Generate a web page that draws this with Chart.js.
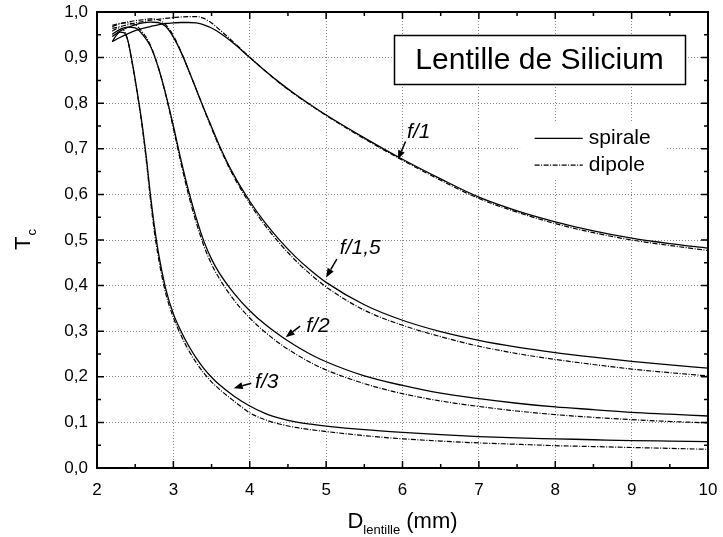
<!DOCTYPE html>
<html>
<head>
<meta charset="utf-8">
<script src="https://cdn.jsdelivr.net/npm/chart.js@4/dist/chart.umd.min.js"></script>
<style>
html,body{margin:0;padding:0;background:#fff;overflow:hidden;}
canvas{display:block;}
</style>
</head>
<body>
<canvas id="c" width="723" height="537"></canvas>
<script>
// ---------- data ----------
const X = [2.2,2.3,2.4,2.5,2.6,2.7,2.8,2.9,3.0,3.1,3.2,3.3,3.4,3.5,3.6,3.8,4.0,4.2,4.4,4.6,4.8,5.0,5.5,6.0,6.5,7.0,7.5,8.0,8.5,9.0,9.5,10];
const X3 = [2.2,2.25,2.3,2.35,2.4,2.45,2.5,2.55,2.6,2.65,2.7,2.75,2.8,2.9,3.0,3.1,3.2,3.3,3.4,3.5,3.6,3.8,4.0,4.2,4.4,4.6,4.8,5.0,5.5,6.0,6.5,7.0,7.5,8.0,8.5,9.0,9.5,10];

const f1Spirale  = [.935,.944,.952,.959,.964,.968,.972,.975,.976,.977,.977,.976,.972,.965,.955,.930,.900,.871,.844,.819,.796,.774,.724,.677,.634,.594,.564,.540,.520,.504,.492,.482];
const f1Dipole   = [.964,.968,.972,.976,.979,.982,.984,.986,.988,.989,.990,.990,.986,.976,.962,.932,.901,.871,.843,.818,.795,.773,.722,.675,.631,.591,.561,.536,.516,.500,.488,.477];
const f15Spirale = [.946,.958,.966,.972,.976,.978,.977,.968,.945,.912,.872,.830,.788,.748,.708,.640,.585,.538,.498,.463,.433,.407,.358,.324,.299,.280,.265,.253,.243,.234,.226,.219];
const f15Dipole  = [.968,.974,.978,.981,.983,.985,.983,.972,.948,.913,.872,.830,.787,.745,.705,.636,.580,.532,.491,.455,.424,.397,.346,.313,.288,.267,.251,.238,.227,.217,.209,.202];
const f2Spirale  = [.951,.962,.967,.965,.950,.925,.880,.820,.750,.675,.607,.548,.497,.458,.428,.382,.345,.315,.290,.268,.249,.233,.202,.181,.164,.152,.142,.134,.128,.122,.118,.114];
const f2Dipole   = [.971,.975,.976,.972,.955,.927,.880,.818,.745,.668,.598,.538,.487,.447,.416,.367,.329,.298,.272,.250,.231,.215,.185,.163,.147,.135,.125,.117,.111,.106,.102,.099];
const f3Spirale  = [.935,.948,.956,.955,.940,.900,.852,.800,.742,.675,.598,.532,.476,.393,.338,.300,.268,.241,.218,.199,.183,.157,.136,.120,.109,.101,.096,.092,.084,.078,.073,.069,.066,.064,.062,.060,.059,.058];
const f3Dipole   = [.958,.963,.965,.960,.940,.898,.850,.797,.738,.668,.588,.520,.465,.383,.330,.291,.258,.231,.208,.189,.173,.146,.121,.106,.096,.089,.084,.080,.071,.064,.059,.055,.052,.049,.047,.045,.043,.041];

const seriesNames = ['spirale','dipole'];
const fLabels = ['f/1','f/1,5','f/2','f/3'];
const titleText = 'Lentille de Silicium';
const xTitleMain = 'D', xTitleSub = 'lentille', xTitleTail = ' (mm)';
const yTitleMain = 'T', yTitleSub = 'c';

// ---------- helpers ----------
const FONT = '"Liberation Sans", Arial, Helvetica, sans-serif';
function pts(xs, ys){ return xs.map((x,i)=>({x:x, y:ys[i]})); }
const DIPOLE_DASH = [5,1.5,1,1.5];
const solid = {borderColor:'#000', borderWidth:1.3, pointRadius:0, fill:false, cubicInterpolationMode:'monotone'};
const dashed = {borderColor:'#000', borderWidth:1.2, pointRadius:0, fill:false, cubicInterpolationMode:'monotone', borderDash:DIPOLE_DASH};

const datasets = [
  {label:'f/1 '+seriesNames[0], data:pts(X,f1Spirale), ...solid},
  {label:'f/1 '+seriesNames[1], data:pts(X,f1Dipole), ...dashed},
  {label:'f/1,5 '+seriesNames[0], data:pts(X,f15Spirale), ...solid},
  {label:'f/1,5 '+seriesNames[1], data:pts(X,f15Dipole), ...dashed},
  {label:'f/2 '+seriesNames[0], data:pts(X,f2Spirale), ...solid},
  {label:'f/2 '+seriesNames[1], data:pts(X,f2Dipole), ...dashed},
  {label:'f/3 '+seriesNames[0], data:pts(X3,f3Spirale), ...solid},
  {label:'f/3 '+seriesNames[1], data:pts(X3,f3Dipole), ...dashed}
];

// annotation anchors in data coordinates
const annotations = [
  {text:fLabels[0], tx:6.06, ty:0.724, ax0:6.04, ay0:0.716, ax1:5.94, ay1:0.677},
  {text:fLabels[1], tx:5.18, ty:0.469, ax0:5.14, ay0:0.458, ax1:5.00, ay1:0.418},
  {text:fLabels[2], tx:4.74, ty:0.299, ax0:4.66, ay0:0.311, ax1:4.47, ay1:0.287},
  {text:fLabels[3], tx:4.07, ty:0.175, ax0:4.02, ay0:0.186, ax1:3.79, ay1:0.175}
];

function arrow(ctx, x0, y0, x1, y1){
  const ang = Math.atan2(y1-y0, x1-x0);
  const L = 9, W = 3.5;
  const bx = x1 - L*Math.cos(ang), by = y1 - L*Math.sin(ang);
  ctx.beginPath(); ctx.moveTo(x0,y0); ctx.lineTo(bx,by); ctx.lineWidth=1.5; ctx.stroke();
  ctx.beginPath();
  ctx.moveTo(x1,y1);
  ctx.lineTo(bx + W*Math.sin(ang), by - W*Math.cos(ang));
  ctx.lineTo(bx - W*Math.sin(ang), by + W*Math.cos(ang));
  ctx.closePath(); ctx.fill();
}

const decor = {
  id:'decor',
  afterDraw(chart){
    const ctx = chart.ctx;
    const {left,right,top,bottom} = chart.chartArea;
    const xs = chart.scales.x, ys = chart.scales.y;
    const px = v => xs.getPixelForValue(v), py = v => ys.getPixelForValue(v);
    ctx.save();
    ctx.fillStyle = '#000'; ctx.strokeStyle = '#000';

    // title box
    const bx0 = px(5.89), bx1 = px(9.70), by0 = py(0.95), by1 = py(0.842);
    ctx.fillStyle = '#fff'; ctx.fillRect(bx0, by0, bx1-bx0, by1-by0);
    ctx.lineWidth = 1.5; ctx.strokeStyle = '#000';
    ctx.strokeRect(Math.round(bx0)+0.5, Math.round(by0)+0.5, Math.round(bx1-bx0), Math.round(by1-by0));
    ctx.fillStyle = '#000';
    ctx.font = '30px ' + FONT; ctx.textAlign = 'center'; ctx.textBaseline = 'middle';
    ctx.fillText(titleText, (bx0+bx1)/2, (by0+by1)/2 + 1);

    // legend
    const lx0 = px(7.54), lx1 = px(9.46), ly0 = py(0.757), ly1 = py(0.632);
    ctx.fillStyle = '#fff'; ctx.fillRect(lx0, ly0, lx1-lx0, ly1-ly0);
    ctx.fillStyle = '#000';
    const legY = [py(0.723), py(0.664)];
    ctx.font = '21px ' + FONT; ctx.textAlign = 'left'; ctx.textBaseline = 'middle';
    legY.forEach((yy, i) => {
      ctx.beginPath();
      ctx.setLineDash(i === 0 ? [] : DIPOLE_DASH);
      ctx.lineWidth = i === 0 ? 1.3 : 1.2;
      ctx.moveTo(px(7.73), yy); ctx.lineTo(px(8.36), yy); ctx.stroke();
      ctx.setLineDash([]);
      ctx.fillText(seriesNames[i], px(8.44), yy);
    });

    // annotations
    ctx.font = 'italic 21px ' + FONT; ctx.textAlign = 'left'; ctx.textBaseline = 'alphabetic';
    annotations.forEach(a => {
      const w = ctx.measureText(a.text).width;
      ctx.fillStyle = '#fff';
      ctx.fillRect(px(a.tx)-1, py(a.ty)-16, w+2, 20);
      ctx.fillStyle = '#000';
      ctx.fillText(a.text, px(a.tx), py(a.ty));
      arrow(ctx, px(a.ax0), py(a.ay0), px(a.ax1), py(a.ay1));
    });

    // frame
    ctx.lineWidth = 2; ctx.strokeStyle = '#000';
    ctx.strokeRect(left, top, right-left, bottom-top);

    // inward ticks
    ctx.lineWidth = 1.5;
    ctx.beginPath();
    for (let i = 0; i <= 16; i++) {
      const v = 2 + i*0.5, p = px(v), len = (i % 2 === 0) ? 7 : 4;
      ctx.moveTo(p, bottom); ctx.lineTo(p, bottom - len);
      ctx.moveTo(p, top); ctx.lineTo(p, top + len);
    }
    for (let i = 0; i <= 20; i++) {
      const v = i*0.05, p = py(v), len = (i % 2 === 0) ? 7 : 4;
      ctx.moveTo(left, p); ctx.lineTo(left + len, p);
      ctx.moveTo(right, p); ctx.lineTo(right - len, p);
    }
    ctx.stroke();

    // x axis title with subscript
    ctx.textBaseline = 'alphabetic'; ctx.textAlign = 'left';
    const fMain = '22px ' + FONT, fSub = '13px ' + FONT;
    ctx.font = fMain; const wD = ctx.measureText(xTitleMain).width; const wT = ctx.measureText(xTitleTail).width;
    ctx.font = fSub; const wS = ctx.measureText(xTitleSub).width;
    const totalW = wD + wS + wT;
    let cx = (left + right)/2 - totalW/2; const base = 528;
    ctx.font = fMain; ctx.fillText(xTitleMain, cx, base); cx += wD;
    ctx.font = fSub; ctx.fillText(xTitleSub, cx, base + 6); cx += wS;
    ctx.font = fMain; ctx.fillText(xTitleTail, cx, base);

    // y axis title with subscript (rotated)
    ctx.save();
    ctx.translate(30, (top + bottom)/2);
    ctx.rotate(-Math.PI/2);
    ctx.font = fMain; const wTT = ctx.measureText(yTitleMain).width;
    ctx.font = fSub; const wC = ctx.measureText(yTitleSub).width;
    let cy = -(wTT + wC)/2;
    ctx.font = fMain; ctx.fillText(yTitleMain, cy, 0); cy += wTT;
    ctx.font = fSub; ctx.fillText(yTitleSub, cy + 1, 6);
    ctx.restore();

    ctx.restore();
  }
};

Chart.defaults.font.family = FONT;
Chart.defaults.color = '#000';

new Chart(document.getElementById('c').getContext('2d'), {
  type: 'line',
  data: {datasets: datasets},
  options: {
    responsive: false,
    animation: false,
    events: [],
    layout: {padding: {top: 12, right: 15, left: 0, bottom: 0}},
    plugins: {legend: {display: false}, tooltip: {enabled: false}},
    scales: {
      x: {
        type: 'linear', min: 2, max: 10,
        ticks: {stepSize: 1, font: {size: 17}, color: '#000', padding: 12, maxRotation: 0},
        grid: {color: '#8a8a8a', lineWidth: 1, drawTicks: false},
        border: {display: false, dash: [1,2]},
        afterFit(s){ s.height = 69; s.paddingLeft = 0; s.paddingRight = 0; }
      },
      y: {
        type: 'linear', min: 0, max: 1,
        ticks: {stepSize: 0.1, font: {size: 17}, color: '#000', padding: 9,
                callback: v => Number(v).toFixed(1).replace('.', ',')},
        grid: {color: '#8a8a8a', lineWidth: 1, drawTicks: false},
        border: {display: false, dash: [1,2]},
        afterFit(s){ s.width = 97; s.paddingTop = 0; s.paddingBottom = 0; }
      }
    }
  },
  plugins: [decor]
});
</script>
</body>
</html>
